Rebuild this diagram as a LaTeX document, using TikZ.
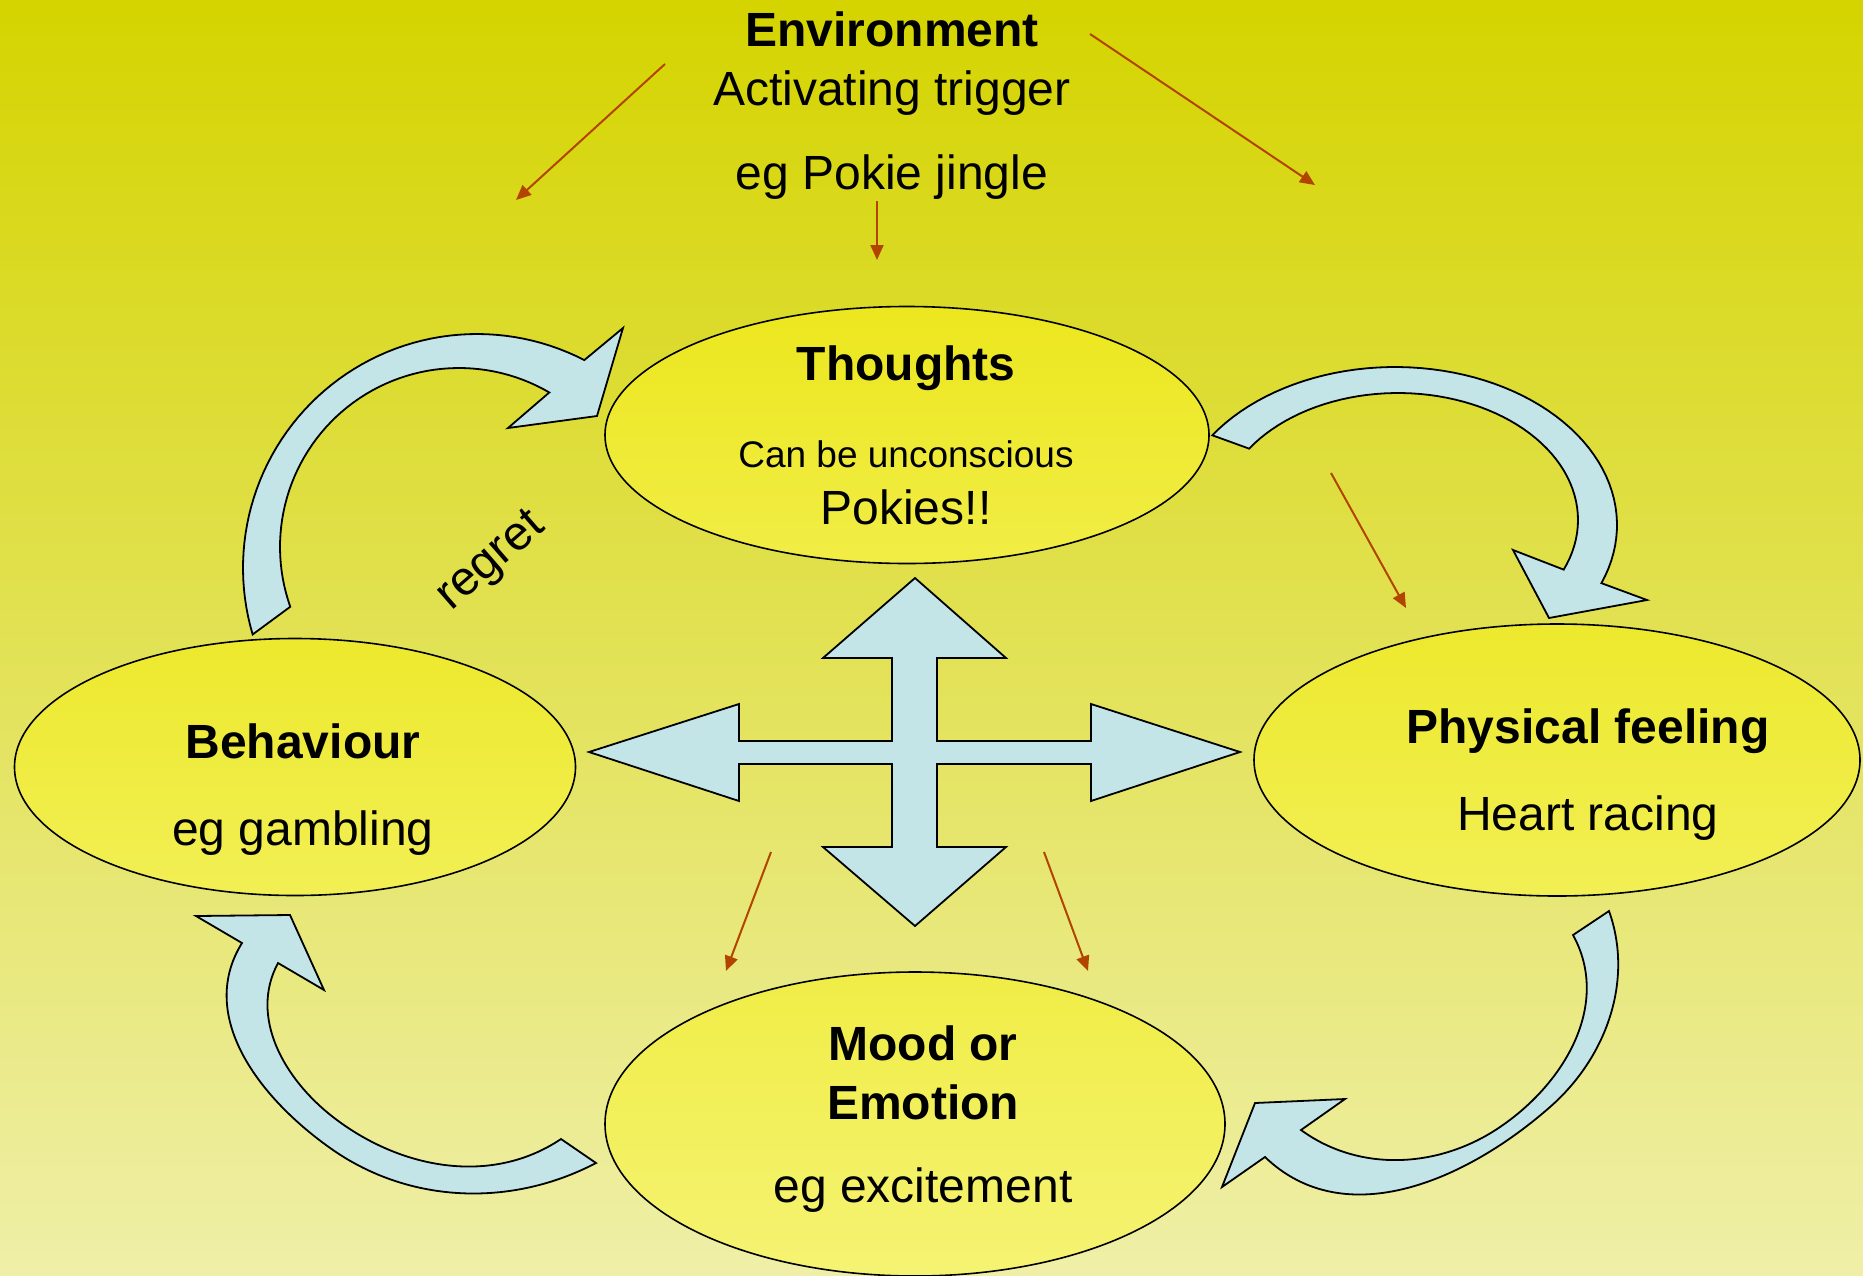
\documentclass[tikz,border=0pt]{standalone}
\usepackage{fontspec}
\setmainfont{Liberation Sans}
\usetikzlibrary{shapes.geometric,arrows.meta}
\definecolor{bgtop}{RGB}{213,212,0}
\definecolor{bgbot}{RGB}{239,239,168}
\definecolor{bluefill}{RGB}{196,229,232}
\definecolor{rust}{RGB}{178,68,0}
\begin{document}
\begin{tikzpicture}[x=1pt,y=-1pt,
  bubble/.style={ellipse, draw=black, line width=1.6pt, inner sep=0pt},
  blockarrow/.style={draw=black, fill=bluefill, line width=1.8pt, line join=miter},
  thinarrow/.style={draw=rust, line width=2pt, -{Triangle[length=15pt,width=13pt]}},
  bigtxt/.style={font=\fontsize{48}{58}\selectfont, inner sep=0pt, anchor=base},
  bigbold/.style={font=\fontsize{48}{58}\selectfont\bfseries, inner sep=0pt, anchor=base},
  smalltxt/.style={font=\fontsize{37}{44}\selectfont, inner sep=0pt, anchor=base}]

% background
\useasboundingbox (0,0) rectangle (1863,1275);
\fill[top color=bgtop, bottom color=bgbot] (0,0) rectangle (1863,1275);

% ellipses
\node[bubble, minimum width=604pt, minimum height=257pt,
      top color={rgb,255:red,236;green,231;blue,30}, bottom color={rgb,255:red,241;green,237;blue,70}] (thoughts) at (907,435) {};
\node[bubble, minimum width=561pt, minimum height=257pt,
      top color={rgb,255:red,237;green,233;blue,45}, bottom color={rgb,255:red,242;green,239;blue,85}] (behaviour) at (295,767) {};
\node[bubble, minimum width=606pt, minimum height=272pt,
      top color={rgb,255:red,237;green,233;blue,45}, bottom color={rgb,255:red,242;green,239;blue,85}] (physical) at (1557,760) {};
\node[bubble, minimum width=620pt, minimum height=304pt,
      top color={rgb,255:red,240;green,237;blue,70}, bottom color={rgb,255:red,245;green,243;blue,115}] (mood) at (915,1124) {};

% curved arrow: behaviour -> thoughts
\draw[blockarrow]
  plot[domain=163.5:297.3, samples=60, variable=\t] ({477+234*cos(\t)},{568+234*sin(\t)})
  -- (623,328) -- (597,416) -- (508,428)
  -- plot[domain=160.5:300.3, samples=60, variable=\t] ({459+179*cos(460.8-\t)},{547+179*sin(460.8-\t)})
  -- cycle;

% curved arrow: thoughts -> physical
\draw[blockarrow]
  plot[domain=214.6:381.6, samples=60, variable=\t] ({1395+222*cos(\t)},{525+158*sin(\t)})
  -- (1647,600) -- (1549,618) -- (1513,550)
  -- plot[domain=214.2:383, samples=60, variable=\t] ({1398+180*cos(597.2-\t)},{520+127*sin(597.2-\t)})
  -- cycle;

% curved arrow: physical -> mood
\draw[blockarrow]
  (1609,911) .. controls (1634,981) and (1606,1058) .. (1550,1107)
  .. controls (1467,1180) and (1345,1234) .. (1265,1157)
  -- (1222,1187) -- (1255,1103) -- (1345,1099) -- (1301,1130)
  .. controls (1360,1173) and (1440,1168) .. (1500,1127)
  .. controls (1565,1083) and (1611,1004) .. (1573,935)
  -- cycle;

% curved arrow: mood -> behaviour
\draw[blockarrow]
  (596,1163) .. controls (512,1207) and (411,1204) .. (333,1150)
  .. controls (261,1100) and (196,1017) .. (242,943)
  -- (196,916) -- (290,915) -- (324,990) -- (278,963)
  .. controls (249,1017) and (284,1079) .. (333,1117)
  .. controls (400,1169) and (491,1186) .. (561,1139)
  -- cycle;

% four-way arrow
\draw[blockarrow] (915,578) -- (1006,658) -- (937,658) -- (937,741) -- (1091,741) -- (1091,704) -- (1240,752)
  -- (1091,801) -- (1091,764) -- (937,764) -- (937,847) -- (1006,847) -- (915,926) -- (823,847) -- (892,847)
  -- (892,764) -- (739,764) -- (739,801) -- (589,752) -- (739,704) -- (739,741) -- (892,741) -- (892,658)
  -- (823,658) -- cycle;

% thin arrows
\coordinate (a1s) at (665,64);   \coordinate (a1e) at (516,200);
\coordinate (a2s) at (1090,34);  \coordinate (a2e) at (1315,185);
\coordinate (a3s) at (877,201);  \coordinate (a3e) at (877,260);
\coordinate (a4s) at (1331,473); \coordinate (a4e) at (1406,608);
\coordinate (a5s) at (771,852);  \coordinate (a5e) at (726,971);
\coordinate (a6s) at (1044,852); \coordinate (a6e) at (1088,971);
\draw[thinarrow] (a1s) -- (a1e);
\draw[thinarrow] (a2s) -- (a2e);
\draw[thinarrow] (a3s) -- (a3e);
\draw[thinarrow] (a4s) -- (a4e);
\draw[thinarrow] (a5s) -- (a5e);
\draw[thinarrow] (a6s) -- (a6e);

% texts
\node[bigbold] (envtitle) at (892,46) {Environment};
\node[bigtxt] (envtrig) at (892,105) {Activating trigger};
\node[bigtxt] (enveg) at (892,189) {eg Pokie jingle};

\node[bigbold] (thtitle) at (906,380) {Thoughts};
\node[smalltxt] (thsub) at (906,467) {Can be unconscious};
\node[bigtxt] (thpok) at (906,524) {Pokies!!};

\node[bigbold] (behtitle) at (303,758) {Behaviour};
\node[bigtxt] (beheg) at (303,845) {eg gambling};

\node[bigbold] (phystitle) at (1588,743) {Physical feeling};
\node[bigtxt] (physeg) at (1588,830) {Heart racing};

\node[bigbold] (moodt1) at (923,1060) {Mood or};
\node[bigbold] (moodt2) at (923,1119) {Emotion};
\node[bigtxt] (moodeg) at (923,1202) {eg excitement};

\node[font=\fontsize{48}{58}\selectfont, inner sep=0pt, rotate=41] (regret) at (492,562) {regret};
\end{tikzpicture}
\end{document}
